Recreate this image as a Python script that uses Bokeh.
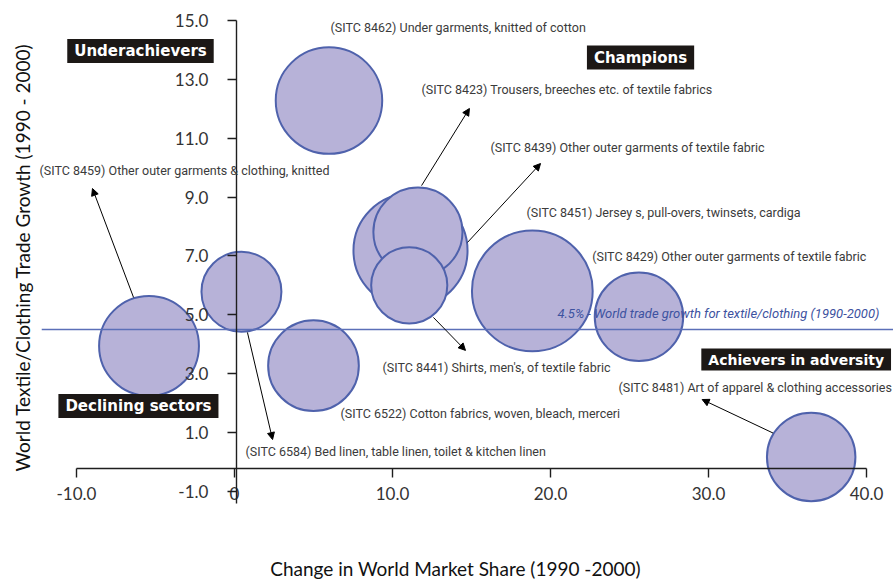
from bokeh.plotting import figure
from bokeh.models import (LinearAxis, FixedTicker, PrintfTickFormatter, Label,
                          Arrow, NormalHead, ColumnDataSource, Range1d)
from bokeh.embed import file_html
from bokeh.resources import INLINE

# --- data -------------------------------------------------------------------
codes = ["8462", "8459", "6584", "6522", "8439", "8423", "8441", "8451", "8429", "8481"]
descriptions = [
    "Under garments, knitted of cotton",
    "Other outer garments & clothing, knitted",
    "Bed linen, table linen, toilet & kitchen linen",
    "Cotton fabrics, woven, bleach, merceri",
    "Other outer garments of textile fabric",
    "Trousers, breeches etc. of textile fabrics",
    "Shirts, men's, of textile fabric",
    "Jersey s, pull-overs, twinsets, cardiga",
    "Other outer garments of textile fabric",
    "Art of apparel & clothing accessories",
]
# change in world market share 1990-2000
share_change = [5.98, -5.41, 0.44, 5.00, 11.14, 11.61, 11.06, 18.85, 25.60, 36.50]
# world trade growth 1990-2000
trade_growth = [12.28, 3.94, 5.78, 3.27, 7.18, 7.81, 6.00, 5.81, 4.93, 0.17]
# bubble size (x-axis units)
bubble_size = [3.37, 3.16, 2.53, 2.87, 3.61, 2.82, 2.41, 3.82, 2.80, 2.80]

world_growth = 4.5  # world trade growth for textile/clothing, %

x_ticks = [-10, 0, 10, 20, 30, 40]
x_tick_labels = ["-10.0", "0", "10.0", "20.0", "30.0", "40.0"]
y_ticks = [-1, 1, 3, 5, 7, 9, 11, 13, 15]
y_tick_labels = ["-1.0", "1.0", "3.0", "5.0", "7.0", "9.0", "11.0", "13.0", "15.0"]

quadrants = ["Underachievers", "Champions", "Declining sectors", "Achievers in adversity"]

# --- layout constants for annotations ---------------------------------------
label_pos = {
    "8462": (6.08, 14.76), "8423": (11.84, 12.65), "8439": (16.20, 10.68),
    "8459": (-12.34, 9.90), "8451": (18.48, 8.47), "8429": (22.64, 6.99),
    "8441": (9.37, 3.21), "8481": (24.30, 2.54), "6522": (6.71, 1.64),
    "6584": (0.70, 0.35),
}
arrow_pos = {  # (x_start, y_start, x_end, y_end)
    "8459": (-6.39, 5.59, -8.99, 9.29),
    "6584": (0.82, 4.40, 2.41, 0.76),
    "8423": (11.84, 9.39, 14.87, 12.01),
    "8439": (14.75, 7.46, 19.37, 10.14),
    "8441": (12.59, 4.91, 14.62, 3.79),
    "8481": (34.09, 0.98, 29.60, 2.12),
}
quadrant_pos = [(-5.95, 13.96), (25.70, 13.74), (-6.08, 1.90), (35.55, 3.48)]
quadrant_size = ["15px", "15px", "15px", "14px"]

# --- figure -----------------------------------------------------------------
p = figure(width=893, height=580,
           x_range=Range1d(-14.81, 41.71), y_range=Range1d(-4.03, 15.68),
           x_axis_type=None, y_axis_type=None,
           output_backend="svg", toolbar_location=None,
           min_border=0, outline_line_color=None)
p.background_fill_color = "white"
p.border_fill_color = "white"

axis_style = dict(
    axis_line_color="#1e1e1e", axis_line_width=1.4,
    major_tick_line_color="#1e1e1e", major_tick_line_width=1.4,
    major_tick_in=0, major_tick_out=9,
    minor_tick_line_color=None,
    major_label_text_font="Lato", major_label_text_font_size="17px",
    major_label_text_color="#333333",
)

xaxis = LinearAxis(fixed_location=-0.23, bounds=(-10, 40),
                   ticker=FixedTicker(ticks=x_ticks),
                   formatter=PrintfTickFormatter(format="%.1f"),
                   major_label_overrides=dict(zip(x_ticks, x_tick_labels)),
                   major_label_standoff=9, **axis_style)
p.add_layout(xaxis, "below")

yaxis = LinearAxis(fixed_location=0.12, bounds=(-1.4, 15),
                   ticker=FixedTicker(ticks=y_ticks),
                   formatter=PrintfTickFormatter(format="%.1f"),
                   major_label_overrides=dict(zip(y_ticks, y_tick_labels)),
                   major_label_standoff=19, major_label_orientation="horizontal",
                   **axis_style)
p.add_layout(yaxis, "left")

# axis titles
p.add_layout(Label(x=13.99, y=-3.62, text="Change in World Market Share (1990 -2000)",
                   text_align="center", text_baseline="middle",
                   text_font="Lato", text_font_size="19px", text_color="#111111"))
p.add_layout(Label(x=-13.42, y=6.95, angle=90, angle_units="deg",
                   text="World Textile/Clothing Trade Growth (1990 - 2000)",
                   text_align="center", text_baseline="middle",
                   text_font="Lato", text_font_size="19px", text_color="#111111"))

# bubbles
src = ColumnDataSource(dict(x=share_change, y=trade_growth, r=bubble_size, code=codes))
p.circle(x="x", y="y", radius="r", source=src,
         fill_color="#b7b2d8", fill_alpha=1.0,
         line_color="#4f62ac", line_width=2)

# world growth reference line
p.segment(x0=-12.2, y0=world_growth, x1=42, y1=world_growth,
          line_color="#5b6fb8", line_width=1.5)
p.add_layout(Label(x=20.44, y=world_growth + 0.55,
                   text=f"{world_growth}% - World trade growth for textile/clothing (1990-2000)",
                   text_align="left", text_baseline="middle",
                   text_font="Roboto", text_font_style="italic",
                   text_font_size="13px", text_color="#3d52a0"))

# product labels
for code, desc in zip(codes, descriptions):
    lx, ly = label_pos[code]
    p.add_layout(Label(x=lx, y=ly, text=f"(SITC {code}) {desc}",
                       text_align="left", text_baseline="middle",
                       text_font="Roboto", text_font_size="12.5px",
                       text_color="#3b3b3b"))

# leader arrows
for code, (xs, ys, xe, ye) in arrow_pos.items():
    p.add_layout(Arrow(x_start=xs, y_start=ys, x_end=xe, y_end=ye,
                       line_color="black", line_width=1,
                       end=NormalHead(size=7, fill_color="black", line_color="black")))

# quadrant tags
for text, (qx, qy), fs in zip(quadrants, quadrant_pos, quadrant_size):
    p.add_layout(Label(x=qx, y=qy, text=text,
                       text_align="center", text_baseline="middle",
                       text_font="DejaVu Sans", text_font_style="bold",
                       text_font_size=fs, text_color="white",
                       background_fill_color="#1c1816", padding=(7, 3)))

open("out.html", "w").write(file_html(p, INLINE))
